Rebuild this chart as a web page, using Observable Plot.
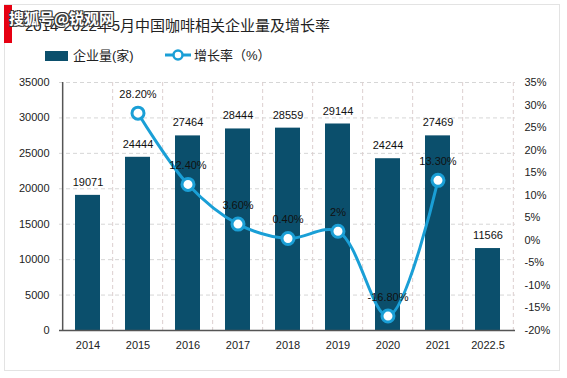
<!DOCTYPE html>
<html>
<head>
<meta charset="utf-8">
<script src="https://cdn.jsdelivr.net/npm/d3@7"></script>
<script src="https://cdn.jsdelivr.net/npm/@observablehq/plot@0.6"></script>
<style>
  html, body { margin: 0; padding: 0; background: #fff; }
  #wrap { position: relative; width: 567px; height: 378px; overflow: hidden; font-family: "Liberation Sans", Arial, sans-serif; }
  #frame { position: absolute; left: 4px; top: 4px; width: 556px; height: 367px; border: 1px solid #e3e3e3; box-sizing: border-box; }
  #redbar { position: absolute; left: 4px; top: 5px; width: 8px; height: 38px; background: #e60012; }
  #title { position: absolute; left: 25px; top: 14px; font-size: 15px; color: #222; font-family: "Liberation Sans", "Noto Sans CJK SC", sans-serif; white-space: nowrap; }
  #wm { position: absolute; left: 9px; top: 7px; font-size: 15px; font-weight: bold; color: #fff; font-family: "Noto Sans CJK SC", sans-serif; white-space: nowrap;
        text-shadow: -1px -1px 0 #333, 1px -1px 0 #333, -1px 1px 0 #333, 1px 1px 0 #333; }
  .leg { position: absolute; top: 45px; font-size: 13px; color: #222; font-family: "Liberation Sans", "Noto Sans CJK SC", sans-serif; white-space: nowrap; }
  #chart { position: absolute; left: 0; top: 0; }
</style>
</head>
<body>
<div id="wrap">
  <div id="frame"></div>
  <div id="chart"></div>
  <div id="redbar"></div>
  <div id="title">2014-2022年5月中国咖啡相关企业量及增长率</div>
  <div id="wm">搜狐号@锐观网</div>
  <div class="leg" style="left:45px;"><span style="display:inline-block;width:23px;height:10px;background:#0b4f6c;vertical-align:-1px;margin-right:5px;"></span>企业量(家)</div>
  <div class="leg" style="left:165px;">
    <svg width="26" height="14" style="vertical-align:-2px;margin-right:3px;"><line x1="0" y1="7" x2="26" y2="7" stroke="#1a9fd6" stroke-width="3"/><circle cx="13" cy="7" r="4.5" fill="#fff" stroke="#1a9fd6" stroke-width="2.5"/></svg>增长率（%）</div>
</div>
<script>
const categories = ["2014", "2015", "2016", "2017", "2018", "2019", "2020", "2021", "2022.5"];
const counts = [19071, 24444, 27464, 28444, 28559, 29144, 24244, 27469, 11566];
const growthCats = ["2015", "2016", "2017", "2018", "2019", "2020", "2021"];
const growth = [28.2, 12.4, 3.6, 0.4, 2, -16.8, 13.3];
const growthLabels = ["28.20%", "12.40%", "3.60%", "0.40%", "2%", "-16.80%", "13.30%"];
const leftTicks = [0, 5000, 10000, 15000, 20000, 25000, 30000, 35000];
const rightTicks = [-20, -15, -10, -5, 0, 5, 10, 15, 20, 25, 30, 35];

const yMax = 35000, pMin = -20, pMax = 35;
const toY = p => (p - pMin) / (pMax - pMin) * yMax;

const bars = categories.map((c, i) => ({cat: c, v: counts[i]}));
const pts = growthCats.map((c, i) => ({cat: c, p: growth[i], y: toY(growth[i]), label: growthLabels[i]}));

const W = 567, H = 378, mL = 59, mR = 52, mT = 82, mB = 48;
const step = (W - mL - mR) / categories.length;

const barColor = "#0b4f6c", lineColor = "#1a9fd6";

const plot = Plot.plot({
  width: W, height: H,
  marginLeft: mL, marginRight: mR, marginTop: mT, marginBottom: mB,
  style: {fontFamily: "Liberation Sans, Arial, sans-serif", fontSize: "11px", color: "#222", background: "transparent"},
  x: {domain: categories, paddingInner: 0.5, paddingOuter: 0.25, label: null},
  y: {domain: [0, yMax], label: null},
  marks: [
    Plot.ruleY(leftTicks.slice(1), {stroke: "#d6d6d6", strokeDasharray: "4,3"}),
    Plot.ruleX(categories.slice(1), {x: d => d, dx: -step / 2, stroke: "#dccfcf", strokeDasharray: "4,3"}),
    Plot.ruleX([categories[categories.length - 1]], {x: d => d, dx: step / 2, stroke: "#dccfcf", strokeDasharray: "4,3"}),
    Plot.barY(bars, {x: "cat", y: "v", fill: barColor}),
    Plot.text(bars, {x: "cat", y: "v", text: d => String(d.v), dy: -13, fontSize: 11, fill: "#111"}),
    Plot.line(pts, {x: "cat", y: "y", stroke: lineColor, strokeWidth: 3, curve: "catmull-rom"}),
    Plot.dot(pts, {x: "cat", y: "y", r: 6, fill: "#fff", stroke: lineColor, strokeWidth: 3}),
    Plot.text(pts, {x: "cat", y: "y", text: "label", dy: -19, fontSize: 11, fill: "#111"}),
    Plot.axisY(leftTicks, {anchor: "left", tickSize: 0, tickPadding: 10, tickFormat: d => String(d), fontSize: 11, label: null}),
    Plot.axisY(rightTicks.map(toY), {anchor: "right", tickSize: 0, tickPadding: 9, tickFormat: (d, i) => rightTicks[i] + "%", fontSize: 11, label: null}),
    Plot.axisX({tickSize: 0, tickPadding: 11, fontSize: 11, label: null}),
    Plot.ruleX([categories[0]], {x: d => d, dx: -step / 2, stroke: "#555", strokeWidth: 1.5}),
    Plot.ruleY([0], {stroke: "#555", strokeWidth: 1.5})
  ]
});
document.getElementById("chart").appendChild(plot);
</script>
</body>
</html>
